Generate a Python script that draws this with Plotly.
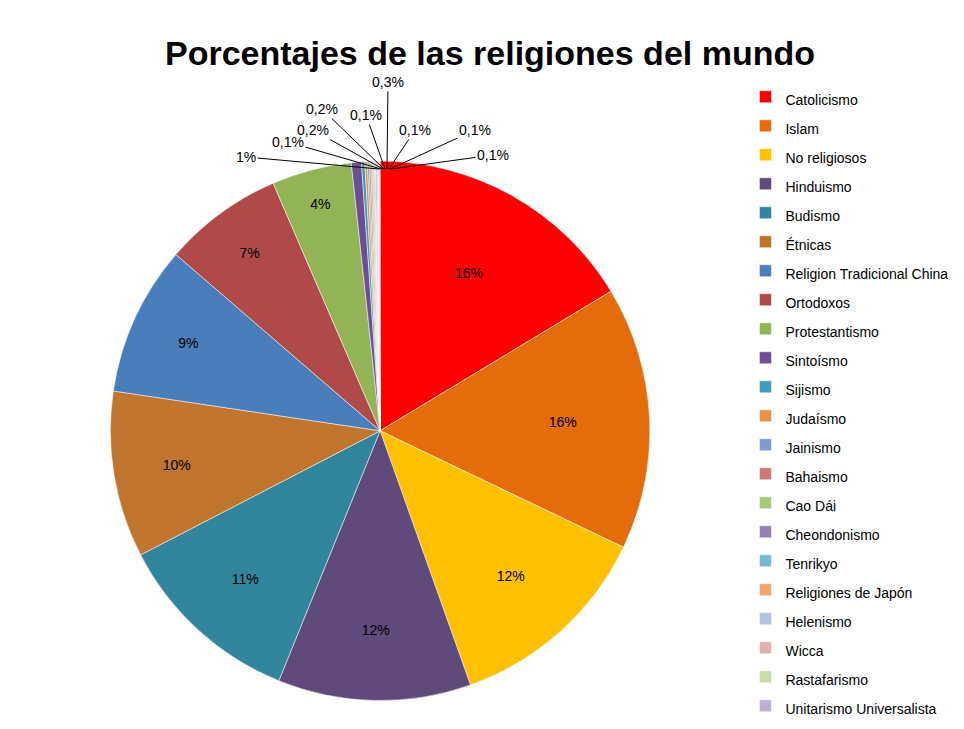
import plotly.graph_objects as go

religiones = ["Catolicismo", "Islam", "No religiosos", "Hinduismo", "Budismo", "Étnicas",
              "Religion Tradicional China", "Ortodoxos", "Protestantismo", "Sintoísmo",
              "Sijismo", "Judaísmo", "Jainismo", "Bahaismo", "Cao Dái", "Cheondonismo",
              "Tenrikyo", "Religiones de Japón", "Helenismo", "Wicca", "Rastafarismo",
              "Unitarismo Universalista"]
valores = [16.4, 15.8, 12.5, 11.6, 11.3, 10.0, 9.0, 7.2, 4.8, 0.6,
           0.2, 0.15, 0.1, 0.1, 0.1, 0.06, 0.06, 0.06, 0.1, 0.06, 0.06, 0.06]
etiquetas = ["16%", "16%", "12%", "12%", "11%", "10%", "9%", "7%", "4%"]
etiquetas_pequenas = ["1%", "0,1%", "0,2%", "0,2%", "0,1%", "0,3%", "0,1%", "0,1%", "0,1%"]
colores = ["#FF0000", "#E46C0A", "#FFC000", "#604A7B", "#31859C", "#C0752F",
           "#4A7EBB", "#B04A48", "#92B456", "#6E4F96", "#3D9DBB", "#E89448",
           "#7F9CCB", "#CC7A78", "#A9C77A", "#9580B3", "#76B9D0", "#F2A56C",
           "#B2C2E2", "#E0B0AE", "#C9DBAE", "#BDB0D2"]

textos = etiquetas + [""] * (len(religiones) - len(etiquetas))

fig = go.Figure(go.Pie(
    labels=[f"<span style='font-size:14px'>{r}</span>" for r in religiones],
    values=valores, text=textos, textinfo="text",
    textposition="inside", sort=False, direction="clockwise", rotation=0,
    marker=dict(colors=colores, line=dict(color="white", width=0.5)),
    textfont=dict(family="Liberation Sans", size=14, color="black"),
    insidetextorientation="horizontal",
    domain=dict(x=[0.106, 0.666], y=[0.05, 0.79]),
    hoverinfo="label+percent",
))

# leader-line labels for the tiny slices: (text x, text y, tip x) in pixels
W, H = 964, 729
pos_pequenas = [(238, 149, 371), (280, 134, 373), (305, 122, 375), (314, 101, 376),
                (358, 107, 377), (380, 74, 379), (407, 122, 381), (467, 122, 382),
                (485, 147, 383)]
for t, (tx, ty, px) in zip(etiquetas_pequenas, pos_pequenas):
    py = 161
    fig.add_annotation(x=px / W, y=1 - py / H, xref="paper", yref="paper",
                       ax=tx - px, ay=ty - py, showarrow=True, arrowhead=0,
                       arrowwidth=1, arrowcolor="black", text=t,
                       font=dict(family="Liberation Sans", size=14, color="black"))

fig.update_layout(
    width=W, height=H, margin=dict(l=0, r=0, t=0, b=0),
    paper_bgcolor="white",
    title=dict(text="<b>Porcentajes de las religiones del mundo</b>", x=0.5, y=0.955,
               xanchor="center", font=dict(family="Liberation Sans", size=34, color="black")),
    legend=dict(x=0.765, y=0.905, xanchor="left", yanchor="top",
                font=dict(family="Liberation Sans", size=20, color="black"),
                itemwidth=30),
)

fig.write_html("out.html")
